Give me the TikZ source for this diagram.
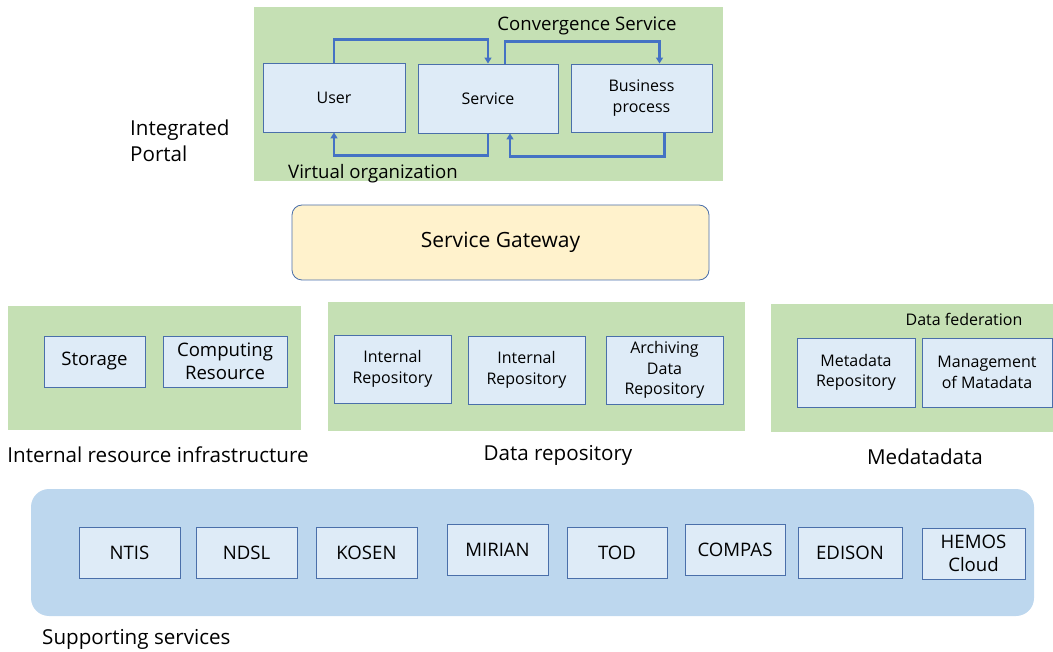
\documentclass[tikz,border=0pt]{standalone}
\usepackage{fontspec}
\setmainfont{Open Sans}
\usetikzlibrary{arrows.meta}

\definecolor{panelgreen}{HTML}{C5E0B4}
\definecolor{boxfill}{HTML}{DEEBF7}
\definecolor{boxline}{HTML}{4A6FAA}
\definecolor{flowblue}{HTML}{4472C4}
\definecolor{gatefill}{HTML}{FFF2CC}
\definecolor{supportfill}{HTML}{BDD7EE}

\begin{document}
\begin{tikzpicture}[x=1pt,y=-1pt,
		box/.style={draw=boxline,fill=boxfill,line width=0.9pt,inner sep=0pt,align=center,font=\fontsize{16}{20.5}\selectfont},
		bigbox/.style={box,font=\fontsize{18.6}{23}\selectfont},
		flow/.style={draw=flowblue,line width=2.2pt,-{Triangle[length=6pt,width=7pt]}},
		lbl/.style={inner sep=0pt,align=left,font=\fontsize{20.6}{26}\selectfont},
		mid/.style={inner sep=0pt,font=\fontsize{18.6}{22}\selectfont},
		small/.style={inner sep=0pt,font=\fontsize{16}{19}\selectfont}]
		\useasboundingbox (0,0) rectangle (1053,652);
		% integrated portal
		\fill[panelgreen] (254,7) rectangle (723,181);
		\node[box,minimum width=142,minimum height=69] (user) at (334,97.5) {User};
		\node[box,minimum width=140,minimum height=69] (service) at (488,98.5) {Service};
		\node[box,minimum width=141,minimum height=68] (business) at (641.5,98) {Business\\process};
		\draw[flow] (user.north) -- ++(0,-23) -| (service.north);
		\draw[flow] ([xshift=17]service.north) -- ++(0,-22) -| ([xshift=18]business.north);
		\draw[flow] (service.south) -- ++(0,22) -| (user.south);
		\draw[flow] ([xshift=23]business.south) -- ++(0,24) -| ([xshift=22]service.south);
		\node[mid] (conv) at (587,26) {Convergence Service};
		\node[mid,anchor=west] (virt) at (288,174) {Virtual organization};
		\node[lbl,anchor=west] (portal) at (130,141) {Integrated\\Portal};
		% gateway
		\node[draw=boxline,fill=gatefill,line width=0.8pt,rounded corners=10,minimum width=417,minimum height=75,
			font=\fontsize{21}{24}\selectfont] (gateway) at (500.5,242.5) {Service Gateway};
		% internal resources
		\fill[panelgreen] (8,306) rectangle (301,430);
		\node[bigbox,minimum width=101,minimum height=51] (storage) at (94.5,361.5) {Storage};
		\node[bigbox,minimum width=124,minimum height=51] (computing) at (225,361.5) {Computing\\Resource};
		\node[lbl] (infra) at (158,455) {Internal resource infrastructure};
		% data repository
		\fill[panelgreen] (328,302) rectangle (745,431);
		\node[box,minimum width=117,minimum height=68] (repoa) at (392.5,369) {Internal\\Repository};
		\node[box,minimum width=117,minimum height=68] (repob) at (526.5,370) {Internal\\Repository};
		\node[box,minimum width=117,minimum height=68] (archive) at (664.5,370) {Archiving\\Data\\Repository};
		\node[lbl] (datarepo) at (558,455) {Data repository};
		% metadata
		\fill[panelgreen] (771,304) rectangle (1053,432);
		\node[small] (fed) at (964,319) {Data federation};
		\node[box,minimum width=118,minimum height=69] (metarepo) at (856,372.5) {Metadata\\Repository};
		\node[box,minimum width=130,minimum height=69] (metamgmt) at (987,372.5) {Management\\of Matadata};
		\node[lbl] (meta) at (925,457) {Medatadata};
		% supporting services
		\fill[supportfill,rounded corners=18] (31,489) rectangle (1034,616);
		\node[bigbox,minimum width=101,minimum height=51] (ntis) at (129.5,552.5) {NTIS};
		\node[bigbox,minimum width=101,minimum height=51] (ndsl) at (246.5,552.5) {NDSL};
		\node[bigbox,minimum width=101,minimum height=51] (kosen) at (366.5,552.5) {KOSEN};
		\node[bigbox,minimum width=101,minimum height=51] (mirian) at (497.5,549.5) {MIRIAN};
		\node[bigbox,minimum width=100,minimum height=51] (tod) at (617,552.5) {TOD};
		\node[bigbox,minimum width=100,minimum height=51] (compas) at (735,549.5) {COMPAS};
		\node[bigbox,minimum width=104,minimum height=51] (edison) at (850,552.5) {EDISON};
		\node[bigbox,minimum width=103,minimum height=51] (hemos) at (973.5,553.5) {HEMOS\\Cloud};
		\node[lbl,anchor=west] (support) at (42,639) {Supporting services};
	\end{tikzpicture}
\end{document}
